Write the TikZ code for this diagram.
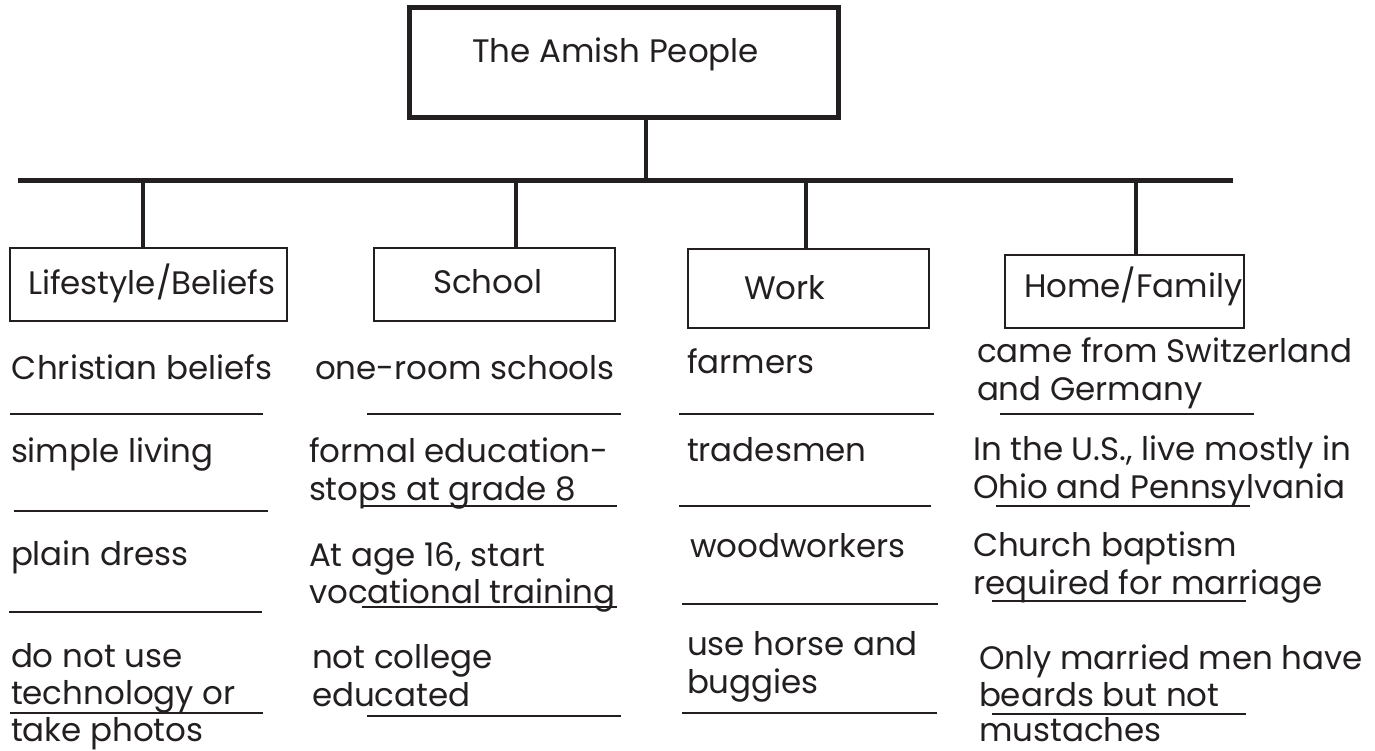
\documentclass[tikz,border=0pt]{standalone}
\usepackage{fontspec}
\setmainfont{Poppins}
\definecolor{ink}{HTML}{231F20}
\begin{document}
\begin{tikzpicture}[x=1pt,y=-1pt,
  txt/.style={anchor=base west,inner sep=0pt,outer sep=0pt,text=ink,font=\fontsize{32.5}{39}\selectfont},
  cat/.style={draw=ink,line width=2.2pt,inner sep=0pt,fill=none},
  uline/.style={draw=ink,line width=2.6pt},
  thick5/.style={draw=ink,line width=5pt},
  drop/.style={draw=ink,line width=4.5pt}]
\useasboundingbox (0,0) rectangle (1375,751);
% title box
\node[thick5,inner sep=0pt,minimum width=429pt,minimum height=109.5pt] (top) at (623.5,62.75) {};
\node[txt] (toptxt) at (472,63) {The Amish People};
% bar
\coordinate (barL) at (18,180.5);
\coordinate (barR) at (1233,180.5);
\coordinate (barM) at (646,180.5);
\draw[thick5] (barL) -- (barR);
\draw[drop,line width=4pt] (top.south -| barM) -- (barM);
% category boxes
\node[cat,minimum width=277pt,minimum height=73pt] (lb) at (148.5,284.5) {};
\node[cat,minimum width=241pt,minimum height=73pt] (sb) at (494.5,284.5) {};
\node[cat,minimum width=241pt,minimum height=79pt] (wb) at (808.5,288.5) {};
\node[cat,minimum width=239pt,minimum height=73pt] (hb) at (1124.5,291.5) {};
\node[txt] (lt) at (28,294) {Lifestyle/Beliefs};
\node[txt] (st) at (433,293) {School};
\node[txt] (wt) at (744,299) {Work};
\node[txt] (ht) at (1024,298) {Home/Family};
% drops
\coordinate (d1) at (143,180.5);
\coordinate (d2) at (516,180.5);
\coordinate (d3) at (806,180.5);
\coordinate (d4) at (1136,180.5);
\draw[drop] (d1) -- (d1 |- lb.north);
\draw[drop] (d2) -- (d2 |- sb.north);
\draw[drop] (d3) -- (d3 |- wb.north);
\draw[drop] (d4) -- (d4 |- hb.north);
% column 1
\node[txt] (a1) at (12,379) {Christian beliefs};
\node[txt] (a2) at (11,462) {simple living};
\node[txt] (a3) at (11,565) {plain dress};
\node[txt] (a4a) at (11,667) {do not use};
\node[txt] (a4b) at (11,704) {technology or};
\node[txt] (a4c) at (11,741) {take photos};
\draw[uline] (10,414) -- (263,414);
\draw[uline] (14,511) -- (268,511);
\draw[uline] (9,612) -- (262,612);
\draw[uline] (10,713) -- (263,713);
% column 2
\node[txt] (b1) at (315,379) {one-room schools};
\node[txt] (b2a) at (309,462) {formal education-};
\node[txt] (b2b) at (309,500) {stops at grade 8};
\node[txt] (b3a) at (309,566) {At age 16, start};
\node[txt] (b3b) at (309,603) {vocational training};
\node[txt] (b4a) at (312,668) {not college};
\node[txt] (b4b) at (312,706) {educated};
\draw[uline] (367,414) -- (621,414);
\draw[uline] (362,506) -- (617,506);
\draw[uline] (362,607) -- (617,607);
\draw[uline] (367,716) -- (621,716);
% column 3
\node[txt] (c1) at (687,373) {farmers};
\node[txt] (c2) at (687,461) {tradesmen};
\node[txt] (c3) at (690,557) {woodworkers};
\node[txt] (c4a) at (687,655) {use horse and};
\node[txt] (c4b) at (687,693) {buggies};
\draw[uline] (679,414) -- (934,414);
\draw[uline] (679,506) -- (931,506);
\draw[uline] (682,604) -- (938,604);
\draw[uline] (682,713) -- (937,713);
% column 4
\node[txt] (e1a) at (977,362) {came from Switzerland};
\node[txt] (e1b) at (977,400) {and Germany};
\node[txt] (e2a) at (973,460) {In the U.S., live mostly in};
\node[txt] (e2b) at (973,498) {Ohio and Pennsylvania};
\node[txt] (e3a) at (973,556) {Church baptism};
\node[txt] (e3b) at (973,594) {required for marriage};
\node[txt] (e4a) at (979,669) {Only married men have};
\node[txt] (e4b) at (979,706) {beards but not};
\node[txt] (e4c) at (979,741) {mustaches};
\draw[uline] (1000,414) -- (1254,414);
\draw[uline] (996,506) -- (1250,506);
\draw[uline] (992,601) -- (1246,601);
\draw[uline] (992,714) -- (1246,714);
\end{tikzpicture}
\end{document}
